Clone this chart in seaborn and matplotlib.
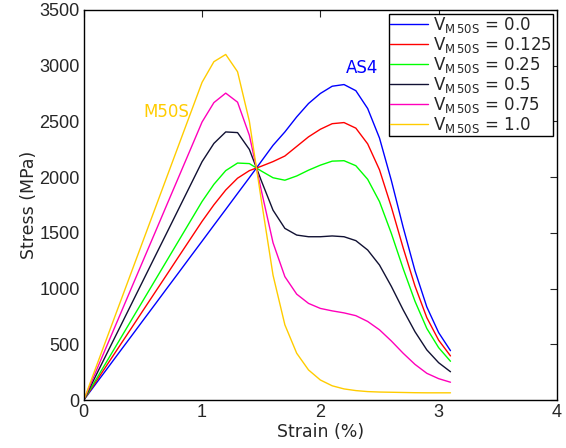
import numpy as np
import pandas as pd
import matplotlib
matplotlib.use('Agg')
import matplotlib.pyplot as plt
import seaborn as sns

# strain (%) sample points
strain = [0.0, 0.1, 0.2, 0.3, 0.4, 0.5, 0.6, 0.7, 0.8, 0.9, 1.0,
          1.1, 1.2, 1.3, 1.4, 1.5, 1.6, 1.7, 1.8, 1.9, 2.0,
          2.1, 2.2, 2.3, 2.4, 2.5, 2.6, 2.7, 2.8, 2.9, 3.0, 3.1]

# stress (MPa) for each M50S volume fraction
v000 = [0, 143, 285, 428, 570, 713, 855, 998, 1140, 1283, 1425,
        1568, 1710, 1853, 1995, 2140, 2285, 2405, 2540, 2660, 2750,
        2815, 2830, 2775, 2615, 2350, 1970, 1550, 1160, 835, 605, 443]
v0125 = [0, 160, 321, 481, 641, 802, 962, 1122, 1283, 1443, 1603,
         1751, 1884, 1990, 2058, 2097, 2139, 2189, 2275, 2361, 2429,
         2479, 2489, 2439, 2298, 2065, 1732, 1365, 1023, 739, 537, 396]
v025 = [0, 178, 356, 534, 713, 891, 1069, 1247, 1425, 1603, 1781,
        1935, 2058, 2126, 2121, 2055, 1994, 1972, 2010, 2062, 2107,
        2143, 2147, 2102, 1980, 1780, 1495, 1179, 886, 642, 470, 348]
v050 = [0, 214, 428, 641, 855, 1069, 1283, 1496, 1710, 1924, 2138,
        2302, 2405, 2399, 2248, 1970, 1703, 1540, 1480, 1465, 1465,
        1472, 1465, 1430, 1346, 1211, 1020, 809, 613, 450, 335, 254]
v075 = [0, 249, 499, 748, 998, 1247, 1496, 1746, 1995, 2244, 2494,
        2668, 2753, 2672, 2374, 1885, 1411, 1107, 950, 867, 822,
        800, 782, 757, 705, 630, 530, 420, 320, 240, 192, 160]
v100 = [0, 285, 570, 855, 1140, 1425, 1710, 1995, 2280, 2565, 2850,
        3035, 3100, 2945, 2500, 1800, 1120, 675, 420, 270, 180,
        128, 100, 85, 76, 72, 70, 68, 66, 65, 65, 65]

fractions = ['0.0', '0.125', '0.25', '0.5', '0.75', '1.0']
series = [v000, v0125, v025, v050, v075, v100]
colors = ['#0000ff', '#ff0000', '#00ff00', '#111133', '#ff00bb', '#ffcc00']

labels = [r'$\mathregular{V_{M\,50S}}$ = ' + f for f in fractions]
rows = []
for label, vals in zip(labels, series):
    for s, v in zip(strain, vals):
        rows.append({'Strain': s, 'Stress': v, 'label': label})
df = pd.DataFrame(rows)

sns.set_style('white')
plt.rcParams['font.family'] = ['DejaVu Sans']
plt.rcParams['mathtext.fontset'] = 'dejavusans'

fig, ax = plt.subplots(figsize=(5.66, 4.48), dpi=100)
fig.subplots_adjust(left=0.148, right=0.984, top=0.978, bottom=0.107)

sns.lineplot(data=df, x='Strain', y='Stress', hue='label', hue_order=labels,
             palette=dict(zip(labels, colors)), linewidth=1.0, ax=ax,
             sort=False, estimator=None)

ax.set_xlim(0, 4)
ax.set_ylim(0, 3500)
ax.set_xticks([0, 1, 2, 3, 4])
ax.set_yticks(np.arange(0, 3501, 500))
ax.tick_params(direction='in', top=True, right=True, length=5,
               width=0.8, pad=3)
for lab in ax.get_xticklabels() + ax.get_yticklabels():
    lab.set_fontfamily('Liberation Sans')
    lab.set_fontsize(13)
for sp in ax.spines.values():
    sp.set_color('black')
    sp.set_linewidth(1.0)
ax.set_xlabel('Strain (%)', fontsize=12.5, labelpad=1)
ax.set_ylabel('Stress (MPa)', fontsize=12.5, labelpad=1)

ax.text(2.35, 2980, 'AS4', color='#0000ff', fontsize=12, ha='center', va='center')
ax.text(0.70, 2585, 'M50S', color='#ffcc00', fontsize=12, ha='center', va='center')

leg = ax.legend(loc='upper right', fontsize=12, handlelength=2.3,
                labelspacing=0.0, handletextpad=0.3, borderpad=0.05,
                borderaxespad=0.25, fancybox=False, framealpha=1)
leg.get_frame().set_edgecolor('black')
leg.get_frame().set_linewidth(1.0)

fig.savefig('out.png', dpi=100)
